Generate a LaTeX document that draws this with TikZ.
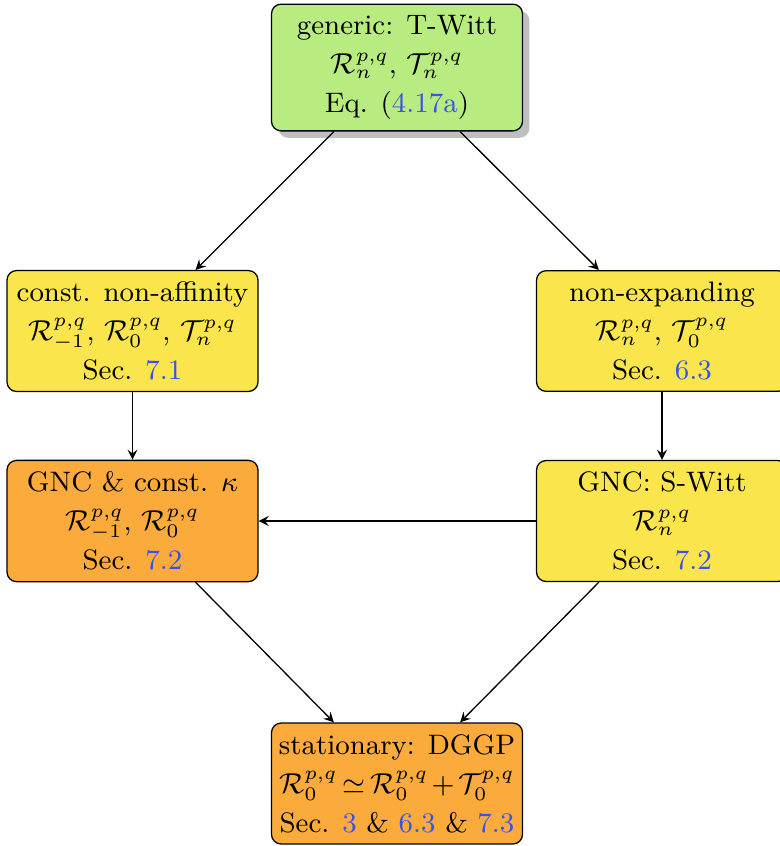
\documentclass[tikz,border=0pt]{standalone}
\usepackage{tikz}
\usepackage{amsmath}
\usepackage{amssymb}
\usepackage{xcolor}
\usetikzlibrary{shadows,calc}

\definecolor{boxgreen}{RGB}{184,236,128}
\definecolor{boxyellow}{RGB}{251,229,76}
\definecolor{boxorange}{RGB}{250,171,60}
\definecolor{refblue}{RGB}{58,82,232}

\newcommand{\rf}[1]{\textcolor{refblue}{#1}}

\begin{document}
\begin{tikzpicture}[x=0.3125pt,y=-0.3125pt,
    box/.style={draw,rounded corners=3pt,align=center,font=\fontsize{8.8}{12.2}\selectfont,
        minimum width=251*0.3125pt,inner xsep=3pt,inner ysep=3.5pt},
    >=stealth]
            \useasboundingbox (0,0) rectangle (780,846);

            \node (gen) at (397,67.5) [box,fill=boxgreen,drop shadow] {generic: T-Witt\\ $\mathcal{R}^{p,q}_n$, $\mathcal{T}^{p,q}_n$\\ Eq. (\rf{4.17a})};
            \node (naff) at (132.5,331) [box,fill=boxyellow] {const. non-affinity\\ $\mathcal{R}^{p,q}_{-1}$, $\mathcal{R}^{p,q}_0$, $\mathcal{T}^{p,q}_n$\\ Sec. \rf{7.1}};
            \node (nexp) at (662,331) [box,fill=boxyellow] {non-expanding\\ $\mathcal{R}^{p,q}_n$, $\mathcal{T}^{p,q}_0$\\ Sec. \rf{6.3}};
            \node (gnck) at (132.5,521) [box,fill=boxorange] {GNC \& const. $\kappa$\\ $\mathcal{R}^{p,q}_{-1}$, $\mathcal{R}^{p,q}_0$\\ Sec. \rf{7.2}};
            \node (switt) at (662,521) [box,fill=boxyellow] {GNC: S-Witt\\ $\mathcal{R}^{p,q}_n$\\ Sec. \rf{7.2}};
            \node (stat) at (397,783.5) [box,fill=boxorange,inner xsep=1pt] {stationary: DGGP\\ $\thickmuskip=3mu\medmuskip=2mu\mathcal{R}^{p,q}_0\simeq\mathcal{R}^{p,q}_0+\mathcal{T}^{p,q}_0$\\ Sec. \rf{3} \& \rf{6.3} \& \rf{7.3}};

            \draw[->] ($(gen.south)!0.5!(gen.south west)$) -- ($(naff.north)!0.5!(naff.north east)$);
            \draw[->] ($(gen.south)!0.5!(gen.south east)$) -- ($(nexp.north)!0.5!(nexp.north west)$);
            \draw[->] (naff) -- (gnck);
            \draw[->] (nexp) -- (switt);
            \draw[->] (switt) -- (gnck);
            \draw[->] ($(gnck.south)!0.5!(gnck.south east)$) -- ($(stat.north)!0.5!(stat.north west)$);
            \draw[->] ($(switt.south)!0.5!(switt.south west)$) -- ($(stat.north)!0.5!(stat.north east)$);

\end{tikzpicture}
\end{document}
